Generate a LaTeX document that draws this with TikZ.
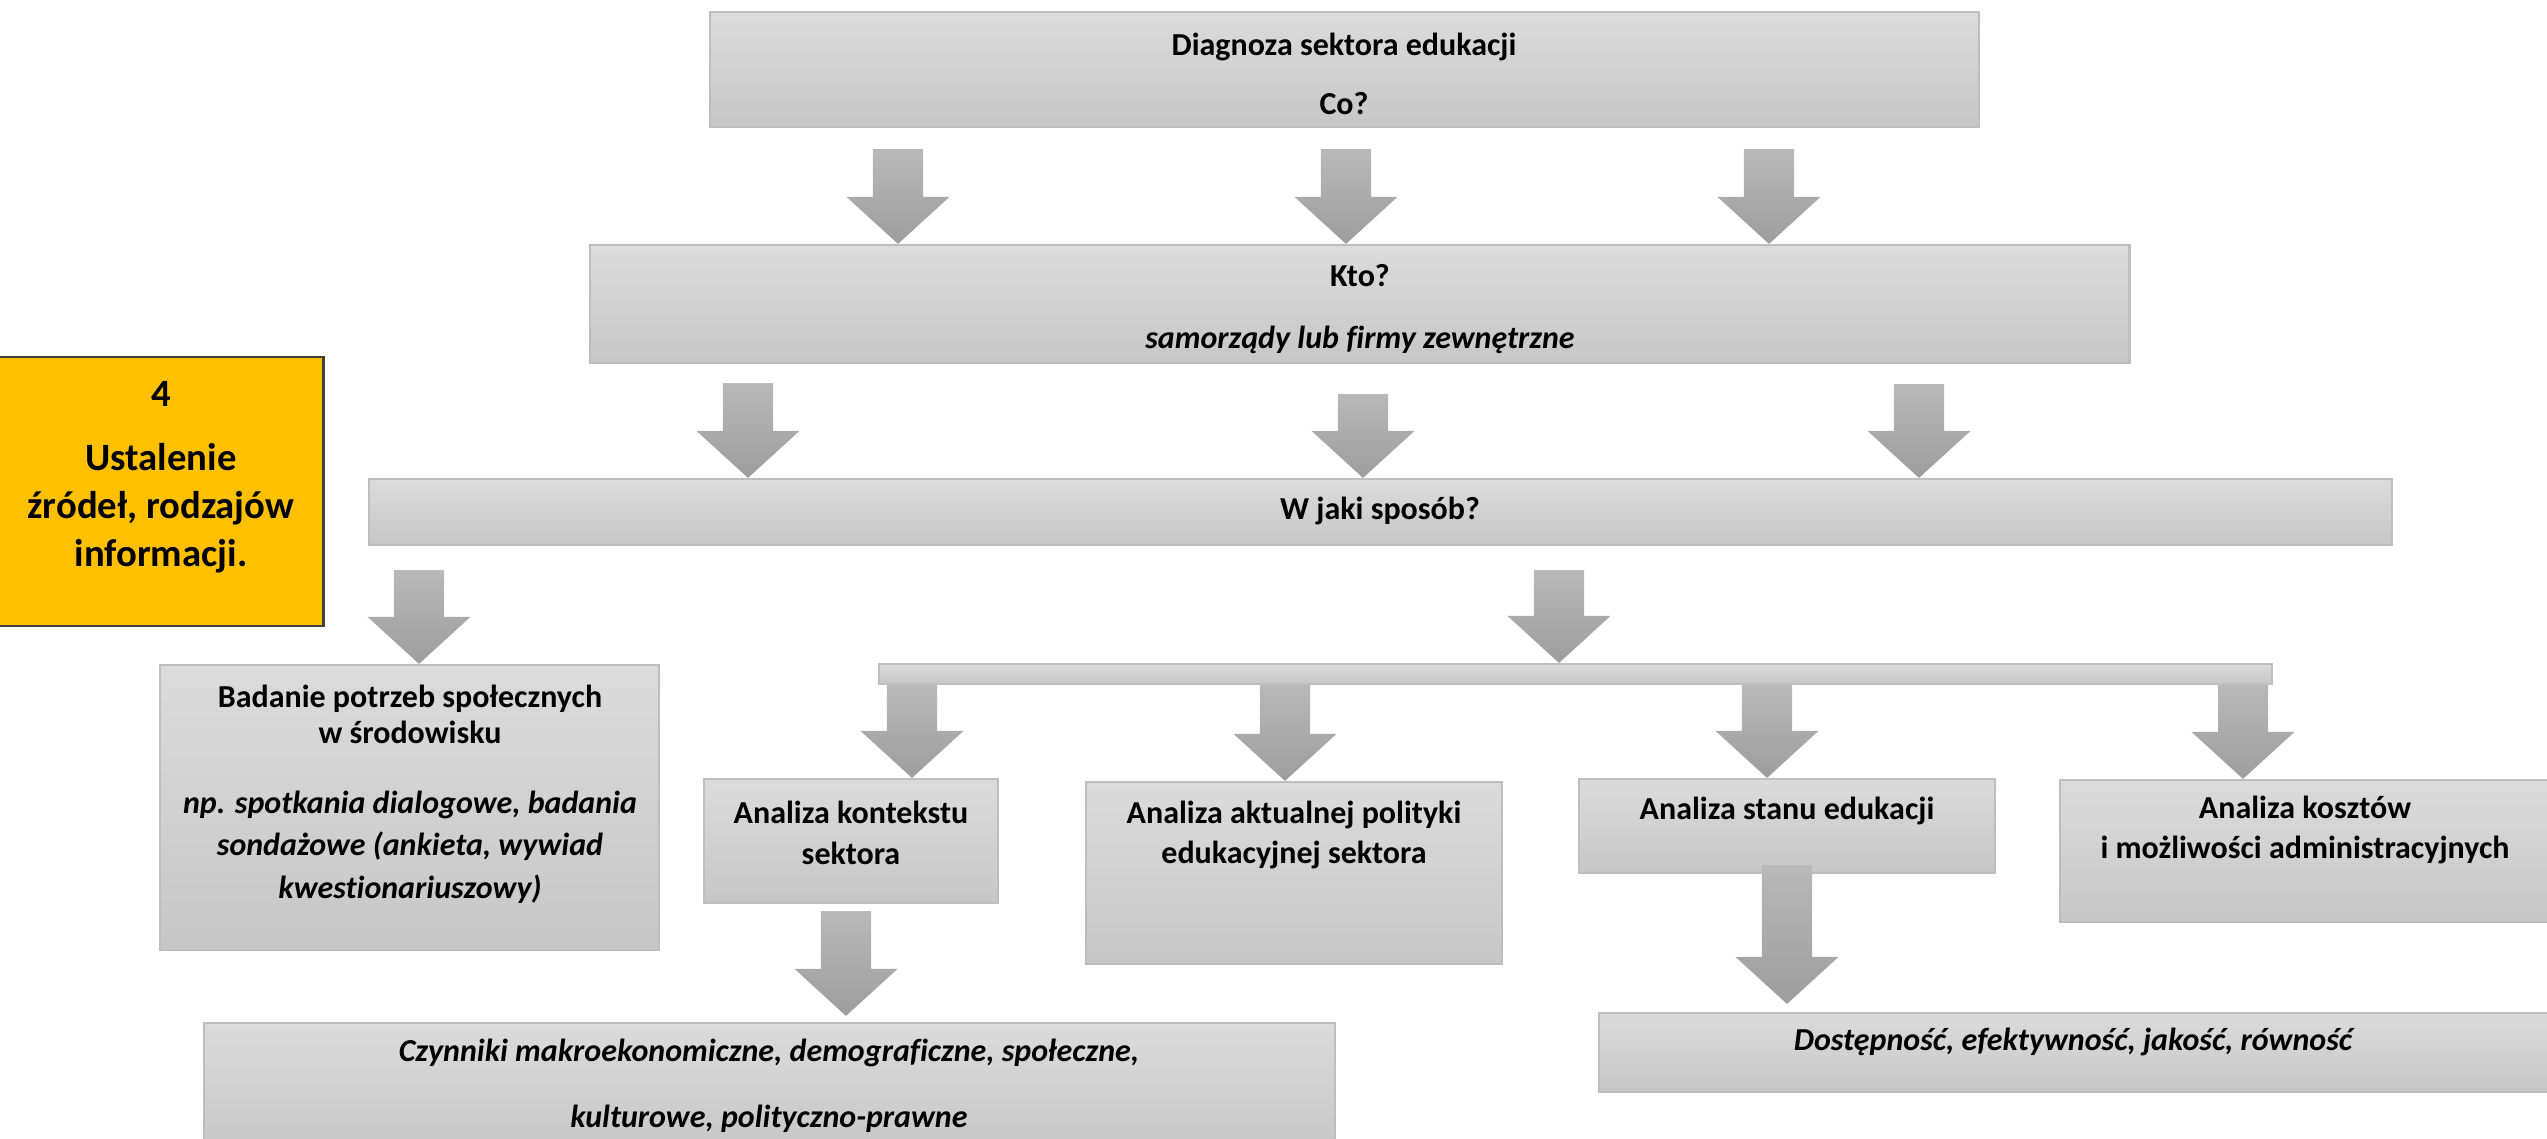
\documentclass[tikz,border=0pt]{standalone}
\usepackage{fontspec}
\setmainfont{Carlito}[Ligatures=CommonOff]
\usetikzlibrary{calc}
\definecolor{boxtop}{HTML}{DBDBDB}
\definecolor{boxbot}{HTML}{C7C7C7}
\definecolor{boxline}{HTML}{BEBEBE}
\definecolor{arrowtop}{HTML}{B9B9B9}
\definecolor{arrowbot}{HTML}{9D9D9D}
\definecolor{ylw}{HTML}{FFC000}
\definecolor{ylwline}{HTML}{3F3F3F}
\tikzset{
    box/.style={draw=boxline, line width=0.6pt, top color=boxtop, bottom color=boxbot, inner sep=0pt},
    txt/.style={align=center, inner sep=0pt, font=\fontsize{9.1}{10.4}\selectfont\bfseries},
    arrowshade/.style={top color=arrowtop, bottom color=arrowbot},
}
% block arrow: #1 = top of the shaft, #2 = tip
\newcommand{\blockarrow}[2]{%
    \path[arrowshade] let \p1=#1, \p2=#2 in
        (\x1-0.25cm,\y1) -- (\x1+0.25cm,\y1) -- (\x1+0.25cm,\y2+0.47cm)
        -- (\x1+0.515cm,\y2+0.47cm) -- (\x2,\y2) -- (\x1-0.515cm,\y2+0.47cm)
        -- (\x1-0.25cm,\y2+0.47cm) -- cycle;}
\begin{document}
\begin{tikzpicture}[x=0.01cm, y=-0.01cm]
    % page size
    \useasboundingbox (0,0) rectangle (2547,1139);
    % boxes
    \node[box, minimum width=12.69cm, minimum height=1.15cm] (dg) at (1344.5,69.5) {};
    \node[box, minimum width=15.39cm, minimum height=1.18cm] (kto) at (1359.5,304) {};
    \node[box, minimum width=20.21cm, minimum height=0.66cm] (wj) at (1380.5,512) {};
    \node[draw=ylwline, fill=ylw, line width=0.8pt, minimum width=3.27cm, minimum height=2.69cm] (ylw) at (159.5,491.5) {};
    \node[box, minimum width=4.99cm, minimum height=2.85cm] (bad) at (409.5,807.5) {};
    \node[box, minimum width=13.93cm, minimum height=0.20cm] (bar) at (1575.5,674) {};
    \node[box, minimum width=2.94cm, minimum height=1.24cm] (kon) at (851,841) {};
    \node[box, minimum width=4.16cm, minimum height=1.82cm] (pol) at (1294,873) {};
    \node[box, minimum width=4.16cm, minimum height=0.94cm] (sta) at (1787,826) {};
    \node[box, minimum width=4.92cm, minimum height=1.42cm] (kos) at (2306,851) {};
    \node[box, minimum width=11.31cm, minimum height=1.27cm] (czy) at (769.5,1086.5) {};
    \node[box, minimum width=9.53cm, minimum height=0.79cm] (dos) at (2075.5,1052.5) {};
    % arrows
    \foreach \ax in {898,1346,1769}
        \blockarrow{($(\ax,0 |- dg.south)+(0,21)$)}{(\ax,0 |- kto.north)};
    \foreach \ax/\gap in {748/19,1363/30,1919/20}
        \blockarrow{($(\ax,0 |- kto.south)+(0,\gap)$)}{(\ax,0 |- wj.north)};
    \blockarrow{($(419,0 |- wj.south)+(0,24)$)}{(419,0 |- bad.north)};
    \blockarrow{($(1559,0 |- wj.south)+(0,24)$)}{(1559,0 |- bar.north)};
    \foreach \ax/\tgt in {912/kon,1285/pol,1767/sta,2243/kos}
        \blockarrow{(\ax,0 |- bar.south)}{(\ax,0 |- \tgt.north)};
    \blockarrow{($(846,0 |- kon.south)+(0,7)$)}{($(846,0 |- czy.north)+(0,-6)$)};
    \blockarrow{($(1787,0 |- sta.south)+(0,-9)$)}{($(1787,0 |- dos.north)+(0,-8)$)};
    % texts
    \node[txt] (dg-t) at (1344,74) {Diagnoza sektora edukacji\\[6.5pt]Co?};
    \node[txt] (kto-t) at (1360,309) {Kto?\\[7.4pt]\itshape samorządy lub firmy zewnętrzne};
    \node[txt] (wj-t) at (1380,511) {W jaki sposób?};
    \node[txt, font=\fontsize{11}{13.6}\selectfont\bfseries] (ylw-t) at (161,477)
        {4\\[4.6pt]Ustalenie\\źródeł, rodzajów\\informacji.};
    \node[txt] (bad-t) at (410,794) {Badanie potrzeb społecznych\\w środowisku\\[9.4pt]
        \itshape np. spotkania dialogowe, badania\\[1.7pt]\itshape sondażowe (ankieta, wywiad\\[1.7pt]\itshape kwestionariuszowy)};
    \node[txt] (kon-t) at (851,833) {Analiza kontekstu\\[1.2pt]sektora};
    \node[txt] (pol-t) at (1294,835) {Analiza aktualnej polityki\\[1.2pt]edukacyjnej sektora};
    \node[txt] (sta-t) at (1787,811) {Analiza stanu edukacji};
    \node[txt] (kos-t) at (2305,830) {Analiza kosztów\\[1.2pt]i możliwości administracyjnych};
    \node[txt] (czy-t) at (769,1086) {\itshape Czynniki makroekonomiczne, demograficzne, społeczne,\\[8.5pt]\itshape kulturowe, polityczno-prawne};
    \node[txt] (dos-t) at (2073,1042) {\itshape Dostępność, efektywność, jakość, równość};
\end{tikzpicture}
\end{document}
